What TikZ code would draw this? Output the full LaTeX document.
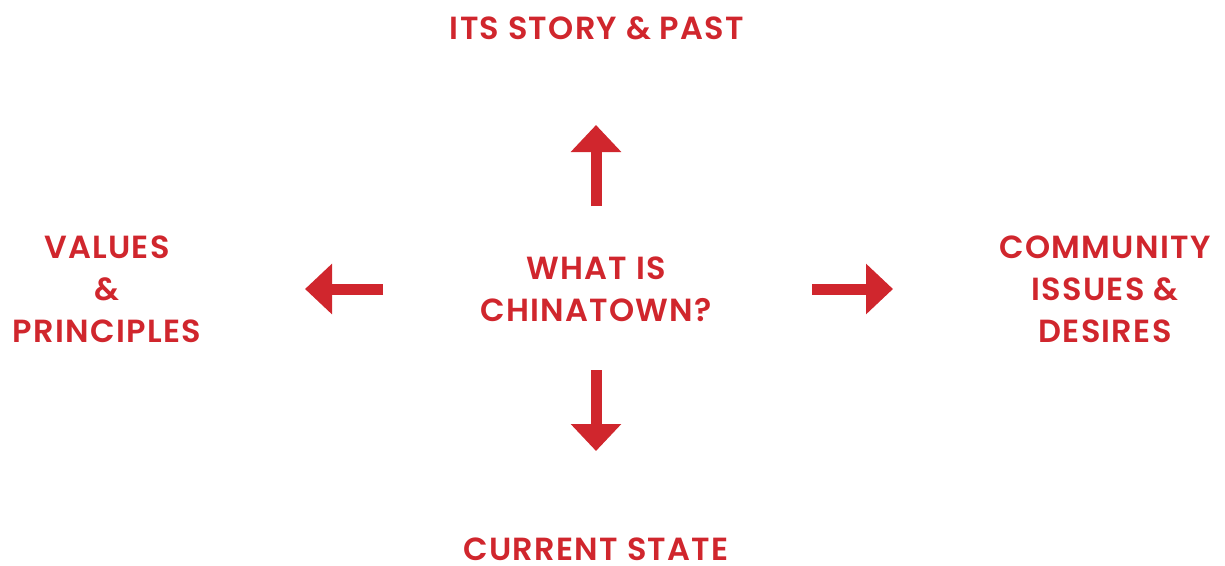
\documentclass[tikz,border=0pt]{standalone}
\usepackage{fontspec}
\setmainfont{Poppins}[BoldFont={* SemiBold},LetterSpace=4]
\usetikzlibrary{arrows.meta}
\definecolor{cred}{HTML}{D0262D}
\begin{document}
\begin{tikzpicture}[x=1pt,y=-1pt,
  lbl/.style={text=cred,font=\fontsize{32}{42}\selectfont\bfseries,align=center,inner sep=0pt},
  arr/.style={draw=cred,line width=11pt,-{Triangle[width=49pt,length=27pt]}}]
\useasboundingbox (0,0) rectangle (1225,565);
\node[lbl] (center) at (596,289) {WHAT IS\\CHINATOWN?};
\node[lbl,anchor=base] (top) at (597,39) {ITS STORY \& PAST};
\node[lbl,anchor=base,text depth=0pt] (bottom) at (596,560) {CURRENT STATE};
\node[lbl] (left) at (107,289) {VALUES\\\&\\PRINCIPLES};
\node[lbl] (right) at (1105,289) {COMMUNITY\\ISSUES \&\\DESIRES};
\coordinate (us) at (596,206); \coordinate (ue) at (596,125);
\coordinate (ds) at (596,370); \coordinate (de) at (596,451);
\coordinate (ls) at (383,289); \coordinate (le) at (305,289);
\coordinate (rs) at (812,289); \coordinate (re) at (893,289);
\draw[arr] (us) -- (ue);
\draw[arr] (ds) -- (de);
\draw[arr] (ls) -- (le);
\draw[arr] (rs) -- (re);
\end{tikzpicture}
\end{document}
